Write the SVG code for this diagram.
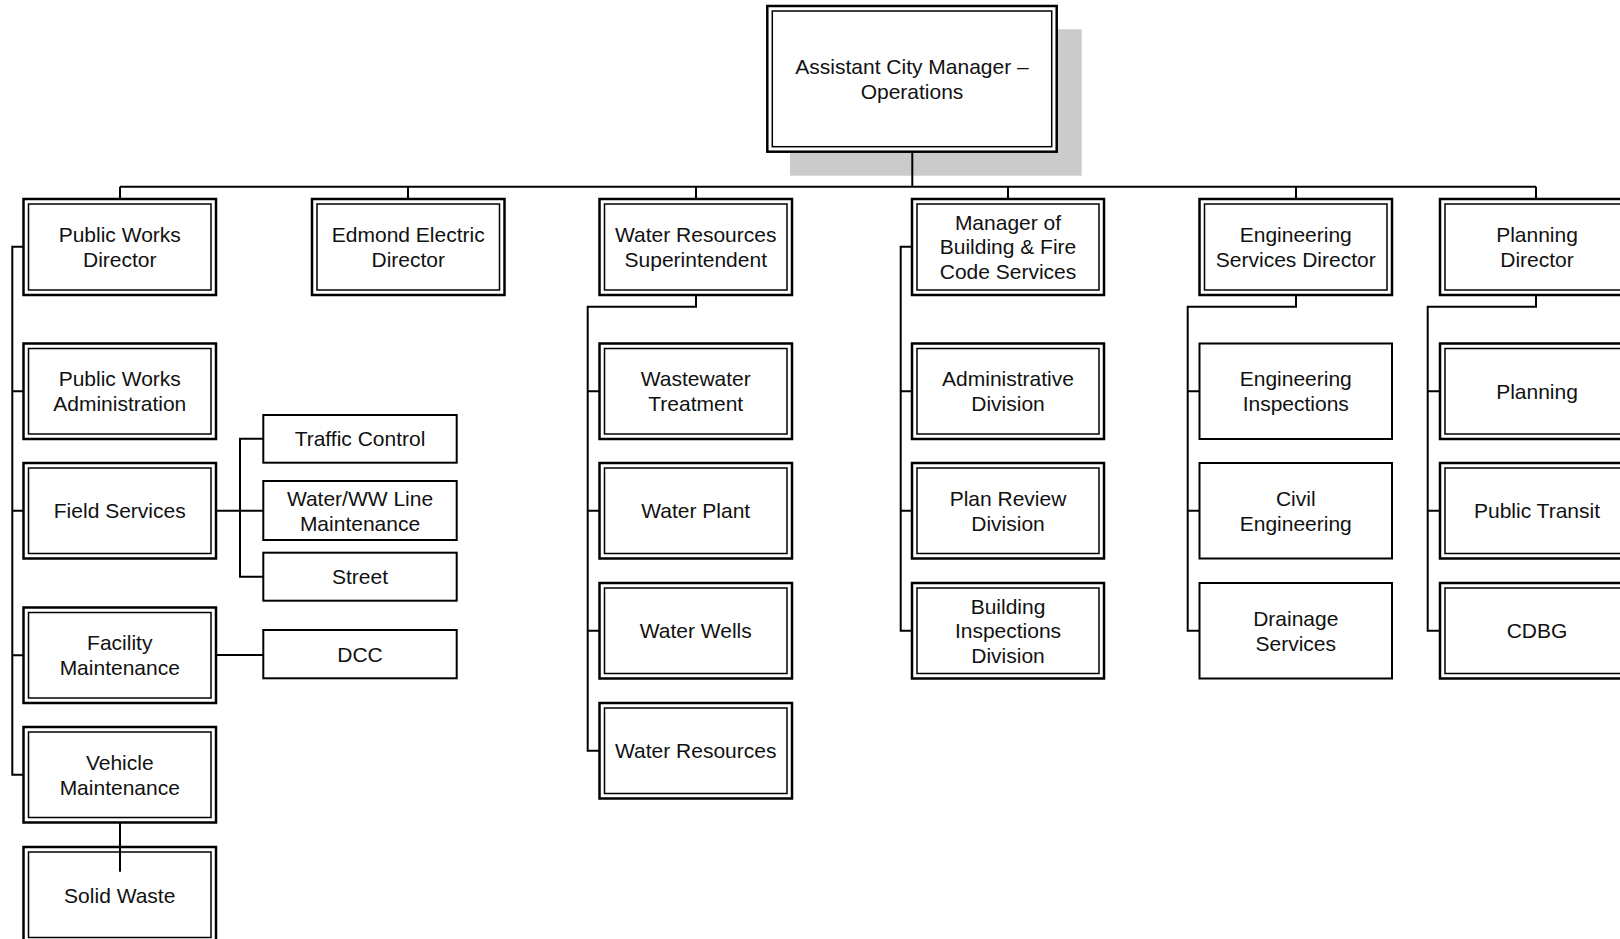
<svg xmlns="http://www.w3.org/2000/svg" width="1620" height="939" viewBox="0 0 1620 939">
<style>
.o{fill:#fff;stroke:#000;stroke-width:2.5}
.i{fill:none;stroke:#000;stroke-width:1.5}
.s{fill:#fff;stroke:#000;stroke-width:2}
.c{fill:none;stroke:#000;stroke-width:2}
text{font-family:"Liberation Sans",Arial,sans-serif;font-size:21px;text-anchor:middle;fill:#111}
</style>
<rect x="0" y="0" width="1620" height="939" fill="#fff"/>
<rect x="790" y="29.3" width="291.7" height="146.4" fill="#cbcbcb"/>
<g id="top"><rect class="o" x="767.3" y="6" width="289.4" height="145.7"/><rect class="i" x="772.3" y="11" width="279.4" height="135.7"/><text x="912" y="74">Assistant City Manager –</text><text x="912" y="99">Operations</text></g>
<g id="connectors">
<path class="c" d="M912.3 151.7V186.7M120 186.7H1536M120 186.7V199M408 186.7V199M696 186.7V199M1008 186.7V199M1296 186.7V199M1536 186.7V199"/>
<path class="c" d="M23.5 246.75H12.3V774.75H23.5M12.3 391.25H23.5M12.3 510.75H23.5M12.3 655.25H23.5"/>
<path class="c" d="M216 510.75H263.3M263.3 438.8H240V576.7H263.3M216 655H263.3"/>
<path class="c" d="M696 295V306.7H587.7V750.75H599.5M587.7 391.25H599.5M587.7 510.75H599.5M587.7 630.75H599.5"/>
<path class="c" d="M912 246.75H900.7V630.75H912M900.7 391.25H912M900.7 510.75H912"/>
<path class="c" d="M1296 295V306.7H1187.7V630.75H1199.5M1187.7 391.25H1199.5M1187.7 510.75H1199.5"/>
<path class="c" d="M1536 295V306.7H1427.7V630.75H1440M1427.7 391.25H1440M1427.7 510.75H1440"/>
</g>
<g id="pwd"><rect class="o" x="23.5" y="199" width="192.5" height="96"/><rect class="i" x="28.5" y="204" width="182.5" height="86"/><text x="119.75" y="241.5">Public Works</text><text x="119.75" y="266.5">Director</text></g>
<g id="eed"><rect class="o" x="312" y="199" width="192.5" height="96"/><rect class="i" x="317" y="204" width="182.5" height="86"/><text x="408.25" y="241.5">Edmond Electric</text><text x="408.25" y="266.5">Director</text></g>
<g id="wrs"><rect class="o" x="599.5" y="199" width="192.5" height="96"/><rect class="i" x="604.5" y="204" width="182.5" height="86"/><text x="695.75" y="241.5">Water Resources</text><text x="695.75" y="266.5">Superintendent</text></g>
<g id="mbf"><rect class="o" x="912" y="199" width="192" height="96"/><rect class="i" x="917" y="204" width="182" height="86"/><text x="1008" y="229.5">Manager of</text><text x="1008" y="254">Building &amp; Fire</text><text x="1008" y="278.5">Code Services</text></g>
<g id="esd"><rect class="o" x="1199.5" y="199" width="192.5" height="96"/><rect class="i" x="1204.5" y="204" width="182.5" height="86"/><text x="1295.75" y="241.5">Engineering</text><text x="1295.75" y="266.5">Services Director</text></g>
<g id="pld"><rect class="o" x="1440" y="199" width="192.5" height="96"/><rect class="i" x="1445" y="204" width="182.5" height="86"/><text x="1537" y="241.5">Planning</text><text x="1537" y="266.5">Director</text></g>
<g id="pwa"><rect class="o" x="23.5" y="343.5" width="192.5" height="95.5"/><rect class="i" x="28.5" y="348.5" width="182.5" height="85.5"/><text x="119.75" y="386">Public Works</text><text x="119.75" y="411">Administration</text></g>
<g id="fs"><rect class="o" x="23.5" y="463" width="192.5" height="95.5"/><rect class="i" x="28.5" y="468" width="182.5" height="85.5"/><text x="119.75" y="518">Field Services</text></g>
<g id="fm"><rect class="o" x="23.5" y="607.5" width="192.5" height="95.5"/><rect class="i" x="28.5" y="612.5" width="182.5" height="85.5"/><text x="119.75" y="650">Facility</text><text x="119.75" y="675">Maintenance</text></g>
<g id="vm"><rect class="o" x="23.5" y="727" width="192.5" height="95.5"/><rect class="i" x="28.5" y="732" width="182.5" height="85.5"/><text x="119.75" y="769.5">Vehicle</text><text x="119.75" y="794.5">Maintenance</text></g>
<g id="sw"><rect class="o" x="23.5" y="847" width="192.5" height="95.5"/><rect class="i" x="28.5" y="852" width="182.5" height="85.5"/><text x="119.75" y="902.5">Solid Waste</text></g>
<path class="c" d="M120 822.7V871.7"/>
<g id="tc"><rect class="s" x="263.3" y="415" width="193.4" height="47.7"/><text x="360" y="446">Traffic Control</text></g>
<g id="ww"><rect class="s" x="263.3" y="481" width="193.4" height="59"/><text x="360" y="505.5">Water/WW Line</text><text x="360" y="530.5">Maintenance</text></g>
<g id="st"><rect class="s" x="263.3" y="552.7" width="193.4" height="48"/><text x="360" y="584">Street</text></g>
<g id="dcc"><rect class="s" x="263.3" y="630" width="193.4" height="48.3"/><text x="360" y="661.5">DCC</text></g>
<g id="wwt"><rect class="o" x="599.5" y="343.5" width="192.5" height="95.5"/><rect class="i" x="604.5" y="348.5" width="182.5" height="85.5"/><text x="695.75" y="386">Wastewater</text><text x="695.75" y="411">Treatment</text></g>
<g id="wp"><rect class="o" x="599.5" y="463" width="192.5" height="95.5"/><rect class="i" x="604.5" y="468" width="182.5" height="85.5"/><text x="695.75" y="518">Water Plant</text></g>
<g id="wwl"><rect class="o" x="599.5" y="583" width="192.5" height="95.5"/><rect class="i" x="604.5" y="588" width="182.5" height="85.5"/><text x="695.75" y="638">Water Wells</text></g>
<g id="wr"><rect class="o" x="599.5" y="703" width="192.5" height="95.5"/><rect class="i" x="604.5" y="708" width="182.5" height="85.5"/><text x="695.75" y="758">Water Resources</text></g>
<g id="ad"><rect class="o" x="912" y="343.5" width="192" height="95.5"/><rect class="i" x="917" y="348.5" width="182" height="85.5"/><text x="1008" y="386">Administrative</text><text x="1008" y="411">Division</text></g>
<g id="pr"><rect class="o" x="912" y="463" width="192" height="95.5"/><rect class="i" x="917" y="468" width="182" height="85.5"/><text x="1008" y="505.5">Plan Review</text><text x="1008" y="530.5">Division</text></g>
<g id="bi"><rect class="o" x="912" y="583" width="192" height="95.5"/><rect class="i" x="917" y="588" width="182" height="85.5"/><text x="1008" y="613.5">Building</text><text x="1008" y="638">Inspections</text><text x="1008" y="662.5">Division</text></g>
<g id="ei"><rect class="s" x="1199.5" y="343.5" width="192.5" height="95.5"/><text x="1295.75" y="386">Engineering</text><text x="1295.75" y="411">Inspections</text></g>
<g id="ce"><rect class="s" x="1199.5" y="463" width="192.5" height="95.5"/><text x="1295.75" y="505.5">Civil</text><text x="1295.75" y="530.5">Engineering</text></g>
<g id="ds"><rect class="s" x="1199.5" y="583" width="192.5" height="95.5"/><text x="1295.75" y="625.5">Drainage</text><text x="1295.75" y="650.5">Services</text></g>
<g id="pl"><rect class="o" x="1440" y="343.5" width="192.5" height="95.5"/><rect class="i" x="1445" y="348.5" width="182.5" height="85.5"/><text x="1537" y="398.5">Planning</text></g>
<g id="pt"><rect class="o" x="1440" y="463" width="192.5" height="95.5"/><rect class="i" x="1445" y="468" width="182.5" height="85.5"/><text x="1537" y="518">Public Transit</text></g>
<g id="cdbg"><rect class="o" x="1440" y="583" width="192.5" height="95.5"/><rect class="i" x="1445" y="588" width="182.5" height="85.5"/><text x="1537" y="638">CDBG</text></g>
</svg>
